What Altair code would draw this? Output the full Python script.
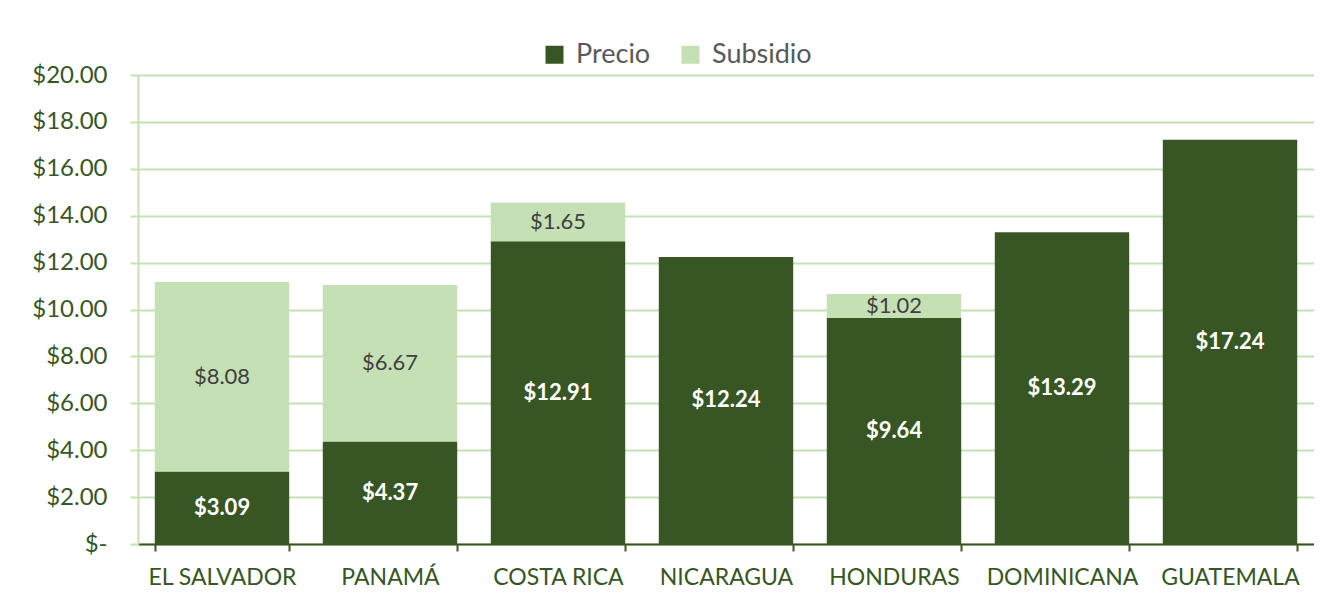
import altair as alt
import pandas as pd

countries = ["EL SALVADOR", "PANAMÁ", "COSTA RICA", "NICARAGUA", "HONDURAS", "DOMINICANA", "GUATEMALA"]
precio = [3.09, 4.37, 12.91, 12.24, 9.64, 13.29, 17.24]
subsidio = [8.08, 6.67, 1.65, 0.0, 1.02, 0.0, 0.0]
series = ["Precio", "Subsidio"]
colors = ["#375623", "#C5E0B4"]

rows = []
for i, c in enumerate(countries):
    rows.append({"Country": c, "Serie": "Precio", "Value": precio[i], "idx": 0})
    rows.append({"Country": c, "Serie": "Subsidio", "Value": subsidio[i], "idx": 1})
df = pd.DataFrame(rows)

FONT = "Lato"
DARK = "#375623"
LIGHT = "#C5E0B4"

x_enc = alt.X("Country:N", sort=countries, title=None,
              scale=alt.Scale(paddingInner=0.2, paddingOuter=0.1),
              axis=alt.Axis(labelAngle=0, labelColor=DARK, labelFont=FONT, labelFontSize=23,
                            domainColor=DARK, domainWidth=2, tickColor=DARK, tickWidth=2,
                            tickSize=7, tickBand="extent", labelPadding=15, grid=False))

base = alt.Chart(df).transform_stack(
    stack="Value", groupby=["Country"], as_=["y0", "y1"], sort=[alt.SortField("idx", order="ascending")]
).transform_calculate(mid="(datum.y0 + datum.y1) / 2")

bars = base.mark_bar().encode(
    x=x_enc,
    y=alt.Y("y0:Q", title=None,
            scale=alt.Scale(domain=[0, 20]),
            axis=alt.Axis(values=list(range(0, 21, 2)),
                          labelExpr="datum.value == 0 ? '$-\u00a0\u00a0\u00a0\u00a0' : '$' + format(datum.value, '.2f')",
                          labelColor=DARK, labelFont=FONT, labelFontSize=24, labelPadding=23,
                          domainColor=LIGHT, domainWidth=2, tickColor=LIGHT, tickWidth=2, tickSize=8,
                          gridColor=LIGHT, gridWidth=2)),
    y2="y1:Q",
    color=alt.Color("Serie:N", scale=alt.Scale(domain=series, range=colors), title=None,
                    legend=alt.Legend(orient="none", legendX=403, legendY=-34, direction="horizontal",
                                      symbolType="square", symbolSize=324, symbolStrokeWidth=0,
                                      labelFont=FONT, labelFontSize=27, labelColor="#595959",
                                      labelOffset=8, columnPadding=26)),
)

lab_p = base.transform_filter("datum.Serie == 'Precio' && datum.Value > 0").mark_text(
    color="white", font=FONT, fontSize=22, fontWeight="bold", baseline="middle"
).encode(x=alt.X("Country:N", sort=countries), y="mid:Q",
         text=alt.Text("Value:Q", format="$.2f"))

lab_s = base.transform_filter("datum.Serie == 'Subsidio' && datum.Value > 0").mark_text(
    color="#404040", font=FONT, fontSize=22, baseline="middle"
).encode(x=alt.X("Country:N", sort=countries), y="mid:Q",
         text=alt.Text("Value:Q", format="$.2f"))

chart = alt.layer(bars, lab_p, lab_s).properties(
    width=1176, height=469,
    autosize=alt.AutoSizeParams(type="none"),
    padding={"left": 130, "top": 67, "right": 0, "bottom": 50},
    background="white",
).configure_view(stroke=None)

chart.save("out.html", embed_options={"renderer": "svg", "actions": False})
